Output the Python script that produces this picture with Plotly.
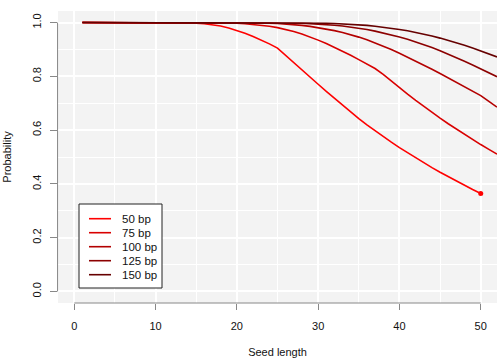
import plotly.graph_objects as go

# ---------------- data ----------------
seed_len = list(range(1, 53))

p_50bp = [1.0]*10 + [0.9999, 0.9998, 0.9996, 0.9989, 0.9977, 0.9955, 0.9923, 0.9871, 0.9800, 0.9710,
          0.9604, 0.9484, 0.9351, 0.9207, 0.9052, 0.8790, 0.8520, 0.8245, 0.7975, 0.7705,
          0.7440, 0.7180, 0.6925, 0.6675, 0.6430, 0.6195, 0.5972, 0.5757, 0.5550, 0.5348,
          0.5154, 0.4965, 0.4782, 0.4604, 0.4432, 0.4264, 0.4101, 0.3944, 0.3790, 0.3642]

p_75bp = [1.0]*14 + [0.9999, 0.9997, 0.9995, 0.9991, 0.9985, 0.9975, 0.9957, 0.9934, 0.9902, 0.9862,
          0.9812, 0.9747, 0.9667, 0.9572, 0.9465, 0.9347, 0.9218, 0.9080, 0.8934, 0.8781,
          0.8623, 0.8458, 0.8290, 0.8075, 0.7823, 0.7577, 0.7338, 0.7106, 0.6880, 0.6660,
          0.6446, 0.6238, 0.6036, 0.5840, 0.5648, 0.5463, 0.5282, 0.5106]

p_100bp = [1.0]*17 + [0.9999, 0.9998, 0.9996, 0.9994, 0.9991, 0.9985, 0.9977, 0.9965, 0.9948, 0.9925,
           0.9895, 0.9858, 0.9814, 0.9760, 0.9700, 0.9630, 0.9550, 0.9459, 0.9357, 0.9245,
           0.9124, 0.8995, 0.8860, 0.8718, 0.8572, 0.8420, 0.8265, 0.8107, 0.7945, 0.7782,
           0.7617, 0.7451, 0.7283, 0.7066, 0.6855]

p_125bp = [1.0]*19 + [0.9999, 0.9998, 0.9998, 0.9996, 0.9994, 0.9991, 0.9987, 0.9981, 0.9973, 0.9961,
           0.9946, 0.9926, 0.9901, 0.9871, 0.9833, 0.9790, 0.9739, 0.9681, 0.9615, 0.9543,
           0.9463, 0.9376, 0.9283, 0.9180, 0.9070, 0.8952, 0.8828, 0.8699, 0.8564, 0.8425,
           0.8282, 0.8136, 0.7987]

p_150bp = [1.0]*22 + [0.9999, 0.9998, 0.9997, 0.9995, 0.9993, 0.9990, 0.9986, 0.9981, 0.9974, 0.9965,
           0.9953, 0.9938, 0.9919, 0.9895, 0.9865, 0.9831, 0.9791, 0.9745, 0.9693, 0.9635,
           0.9570, 0.9499, 0.9422, 0.9339, 0.9250, 0.9155, 0.9055, 0.8949, 0.8838, 0.8721]

series_names = ["50 bp", "75 bp", "100 bp", "125 bp", "150 bp"]
series_values = [p_50bp, p_75bp, p_100bp, p_125bp, p_150bp]
series_colors = ["#FF0000", "#D90000", "#B30000", "#8C0000", "#660000"]

x_ticks = [0, 10, 20, 30, 40, 50]
y_ticks = [0.0, 0.2, 0.4, 0.6, 0.8, 1.0]

# ---------------- figure ----------------
W, H = 500, 364
ML, MR, MT, MB = 58, 3, 11, 61
PW, PH = W - ML - MR, H - MT - MB
FONT = "Liberation Sans, Arial, Helvetica, sans-serif"

def px2paper(px, py):
    return (px - ML) / PW, (H - MB - py) / PH

fig = go.Figure()
for name, vals, col in zip(series_names, series_values, series_colors):
    fig.add_trace(go.Scatter(x=seed_len[:len(vals)], y=vals, mode="lines", name=name,
                             line=dict(color=col, width=1.6), showlegend=False))
# end point marker of the 50 bp series
fig.add_trace(go.Scatter(x=[seed_len[len(p_50bp) - 1]], y=[p_50bp[-1]], mode="markers",
                         marker=dict(color=series_colors[0], size=5), showlegend=False,
                         hoverinfo="skip"))

shapes = []
# axis lines spanning only the tick range (R style)
shapes.append(dict(type="line", xref="paper", yref="y", x0=-0.001, x1=-0.001,
                   y0=y_ticks[0], y1=y_ticks[-1], line=dict(color="#888888", width=1)))
shapes.append(dict(type="line", xref="x", yref="paper", x0=x_ticks[0], x1=x_ticks[-1],
                   y0=0.0, y1=0.0, line=dict(color="#888888", width=1)))

# manual legend
bx0, by0 = px2paper(79, 204)
bx1, by1 = px2paper(162, 288)
shapes.append(dict(type="rect", xref="paper", yref="paper", x0=bx0, x1=bx1, y0=by1, y1=by0,
                   line=dict(color="#222222", width=1), fillcolor="white", layer="above"))
annotations = []
for i, (name, col) in enumerate(zip(series_names, series_colors)):
    rowy = 218.7 + 14 * i
    lx0, ly = px2paper(89, rowy)
    lx1, _ = px2paper(111, rowy)
    shapes.append(dict(type="line", xref="paper", yref="paper", x0=lx0, x1=lx1, y0=ly, y1=ly,
                       line=dict(color=col, width=1.6), layer="above"))
    tx, _ = px2paper(120, rowy)
    annotations.append(dict(x=tx, y=ly, xref="paper", yref="paper", text=name, showarrow=False,
                            xanchor="left", yanchor="middle",
                            font=dict(family=FONT, size=11.5, color="#111111")))

fig.update_layout(
    width=W, height=H,
    margin=dict(l=ML, r=MR, t=MT, b=MB, autoexpand=False),
    paper_bgcolor="white", plot_bgcolor="#F3F3F3",
    font=dict(family=FONT, size=11, color="#111111"),
    shapes=shapes, annotations=annotations,
    showlegend=False,
    xaxis=dict(range=[-2, 52], tickvals=x_ticks, ticks="outside", ticklen=6, tickcolor="#888888",
               showline=False, zeroline=False, gridcolor="white", gridwidth=1.6, automargin=False,
               ticklabelstandoff=7,
               minor=dict(dtick=5, tick0=0, showgrid=True, gridcolor="white", gridwidth=0.8),
               title=dict(text="Seed length", standoff=17, font=dict(size=11)),
               tickfont=dict(size=11)),
    yaxis=dict(range=[-0.043, 1.043], tickvals=y_ticks, tickformat=".1f", tickangle=-90,
               ticks="outside", ticklen=7, tickcolor="#888888", automargin=False,
               ticklabelstandoff=5,
               showline=False, zeroline=False, gridcolor="white", gridwidth=1.6,
               minor=dict(dtick=0.1, tick0=0, showgrid=True, gridcolor="white", gridwidth=0.8),
               title=dict(text="Probability", standoff=16, font=dict(size=11)),
               tickfont=dict(size=11)),
)

fig.write_html("out.html", config={"displayModeBar": False},
               post_script="document.body.style.margin='0';")
